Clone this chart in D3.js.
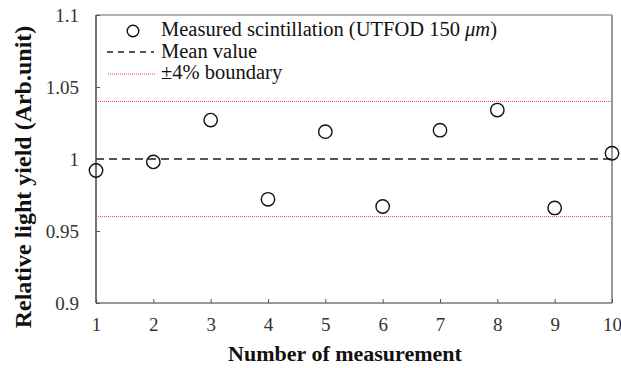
<!DOCTYPE html>
<html><head><meta charset="utf-8">
<script src="https://cdn.jsdelivr.net/npm/d3@7"></script>
<style>body{margin:0;background:#fff}svg{display:block}svg text{font-family:"Liberation Serif","Times New Roman",serif !important}</style>
</head><body>
<script>
const measurements = [1,2,3,4,5,6,7,8,9,10];
const lightYield = [0.992,0.998,1.027,0.972,1.019,0.967,1.020,1.034,0.966,1.004];
const meanValue = [1.0];
const boundaries = [0.96, 1.04];
const yTicks = [0.9,0.95,1,1.05,1.1];
const xTicks = [1,2,3,4,5,6,7,8,9,10];

const W=621,H=368;
const m={l:96,r:612,t:15,b:303};
const svg=d3.select("body").append("svg").attr("width",W).attr("height",H);
const x=d3.scaleLinear().domain([1,10]).range([m.l,m.r]);
const y=d3.scaleLinear().domain([0.9,1.1]).range([m.b,m.t]);

// frame
svg.append("line").attr("x1",m.l).attr("x2",m.r).attr("y1",m.t).attr("y2",m.t).attr("stroke","#999").attr("stroke-width",1.5);
svg.append("line").attr("x1",m.r).attr("x2",m.r).attr("y1",m.t).attr("y2",m.b).attr("stroke","#999").attr("stroke-width",2);
svg.append("line").attr("x1",m.l).attr("x2",m.r).attr("y1",m.b).attr("y2",m.b).attr("stroke","#777").attr("stroke-width",1.5);
svg.append("line").attr("x1",m.l).attr("x2",m.l).attr("y1",m.t).attr("y2",m.b).attr("stroke","#444").attr("stroke-width",1.5);

// ticks
const yAx=svg.append("g").attr("transform",`translate(${m.l},0)`).call(d3.axisLeft(y).tickValues(yTicks).tickSizeInner(-4).tickSizeOuter(0).tickPadding(17).tickFormat(d=>d3.format("")(d)));
yAx.select(".domain").remove();
yAx.selectAll("line").attr("stroke","#555");
yAx.selectAll("text").attr("font-size",19).attr("fill","#333");
const xAx=svg.append("g").attr("transform",`translate(0,${m.b})`).call(d3.axisBottom(x).tickValues(xTicks).tickSizeInner(-4).tickSizeOuter(0));
xAx.select(".domain").remove();
xAx.selectAll("line").attr("stroke","#555");
xAx.selectAll("text").attr("font-size",19).attr("fill","#333").attr("y",28).attr("dy",0);

// boundaries
svg.selectAll(".bd").data(boundaries).enter().append("line")
 .attr("x1",m.l).attr("x2",m.r).attr("y1",d=>y(d)).attr("y2",d=>y(d))
 .attr("stroke","#f04040").attr("stroke-width",1).attr("stroke-dasharray","1,1");
// mean
svg.selectAll(".mn").data(meanValue).enter().append("line")
 .attr("x1",m.l).attr("x2",m.r).attr("y1",d=>y(d)).attr("y2",d=>y(d))
 .attr("stroke","#555").attr("stroke-width",2).attr("stroke-dasharray","8,5");

// points
svg.selectAll(".pt").data(measurements).enter().append("circle")
 .attr("cx",d=>x(d)).attr("cy",(d,i)=>y(lightYield[i])).attr("r",6.7)
 .attr("fill","none").attr("stroke","#111").attr("stroke-width",1.4);

// legend
const lg=svg.append("g");
lg.append("circle").attr("cx",133).attr("cy",31).attr("r",5.8).attr("fill","none").attr("stroke","#111").attr("stroke-width",1.4);
lg.append("line").attr("x1",107).attr("x2",154).attr("y1",52).attr("y2",52).attr("stroke","#555").attr("stroke-width",2).attr("stroke-dasharray","6,5");
lg.append("line").attr("x1",108).attr("x2",155).attr("y1",74).attr("y2",74).attr("stroke","#f04040").attr("stroke-width",1).attr("stroke-dasharray","1,1");
const lt=lg.append("text").attr("x",161).attr("y",36).attr("font-size",20.5).attr("fill","#111");
lt.append("tspan").text("Measured scintillation (UTFOD 150 ");
lt.append("tspan").attr("font-style","italic").text("μm");
lt.append("tspan").text(")");
lg.append("text").attr("x",161).attr("y",58).attr("font-size",20.5).attr("fill","#111").text("Mean value");
lg.append("text").attr("x",161).attr("y",79).attr("font-size",20.5).attr("fill","#111").text("±4% boundary");

// axis titles
svg.append("text").attr("x",345).attr("y",361).attr("text-anchor","middle").attr("font-size",22).attr("font-weight","bold").attr("fill","#111").text("Number of measurement");
svg.append("text").attr("transform",`translate(31,${(m.t+m.b)/2+18}) rotate(-90)`).attr("text-anchor","middle").attr("font-size",24).attr("font-weight","bold").attr("fill","#111").text("Relative light yield (Arb.unit)");
</script>
</body></html>
